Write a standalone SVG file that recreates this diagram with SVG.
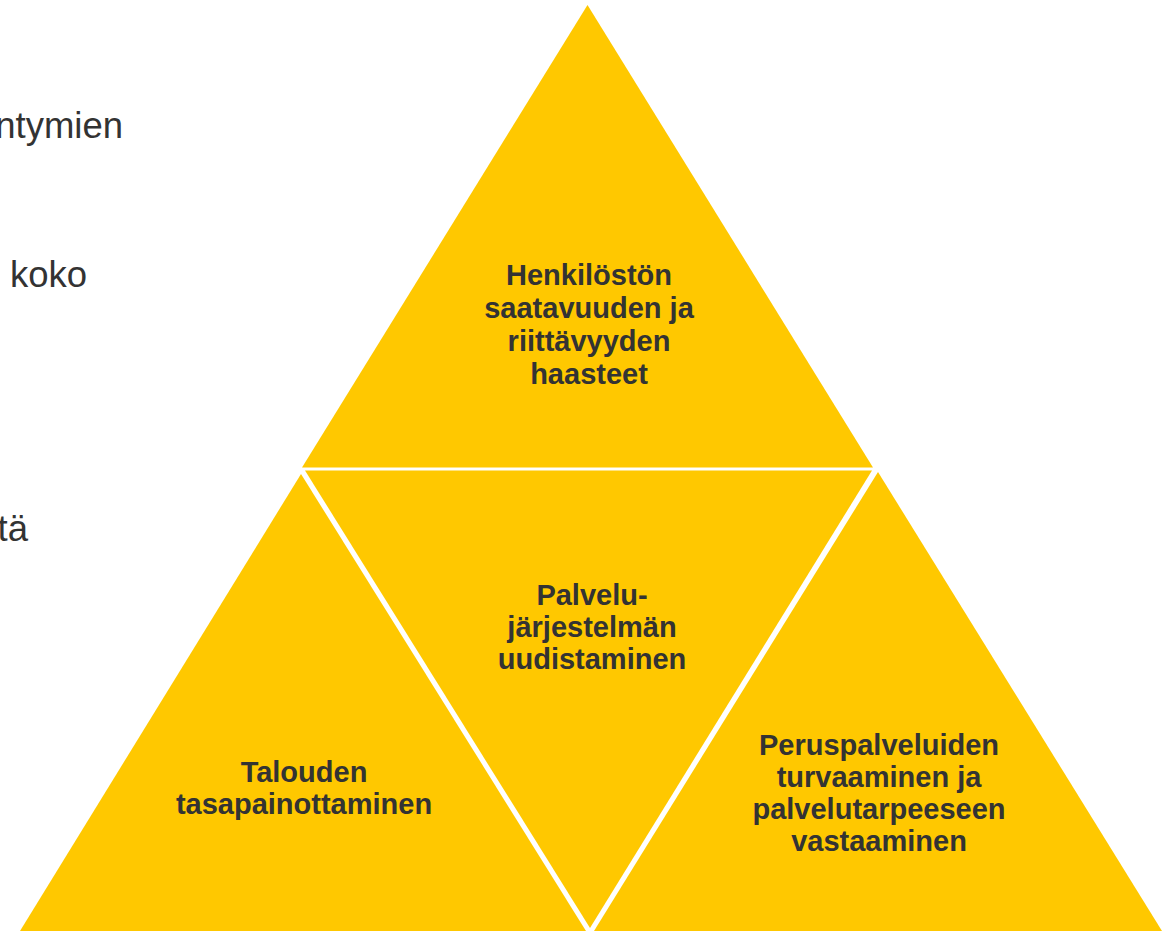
<svg xmlns="http://www.w3.org/2000/svg" width="1172" height="931" viewBox="0 0 1172 931">
<style>
.tri{fill:#FFC800;stroke:none}
.lbl{font-family:"Liberation Sans",Arial,sans-serif;font-weight:bold;font-size:29px;fill:#333333;text-anchor:middle}
.side{font-family:"Liberation Sans",Arial,sans-serif;font-size:36.5px;fill:#333333}
</style>
<rect width="1172" height="931" fill="#FFFFFF"/>
<g id="side-text">
<text class="side" x="123" y="138" text-anchor="end">ntymien</text>
<text class="side" x="10" y="287">koko</text>
<text class="side" x="28" y="541" text-anchor="end">tä</text>
</g>
<g id="connectors"></g>
<g id="node-top">
<polygon class="tri" points="587.5,5 302,467.5 873,467.5"/>
<text class="lbl"><tspan x="589" y="285">Henkilöstön</tspan><tspan x="589" y="318">saatavuuden ja</tspan><tspan x="589" y="351">riittävyyden</tspan><tspan x="589" y="384">haasteet</tspan></text>
</g>
<g id="node-middle">
<polygon class="tri" points="305,470.5 872,470.5 590,928"/>
<text class="lbl"><tspan x="592" y="605">Palvelu-</tspan><tspan x="592" y="637">järjestelmän</tspan><tspan x="592" y="669">uudistaminen</tspan></text>
</g>
<g id="node-left">
<polygon class="tri" points="301,474 20,931 586,931"/>
<text class="lbl"><tspan x="304" y="782">Talouden</tspan><tspan x="304" y="814">tasapainottaminen</tspan></text>
</g>
<g id="node-right">
<polygon class="tri" points="878,472 594,931 1162,931"/>
<text class="lbl"><tspan x="879" y="755">Peruspalveluiden</tspan><tspan x="879" y="787">turvaaminen ja</tspan><tspan x="879" y="819">palvelutarpeeseen</tspan><tspan x="879" y="851">vastaaminen</tspan></text>
</g>
</svg>
